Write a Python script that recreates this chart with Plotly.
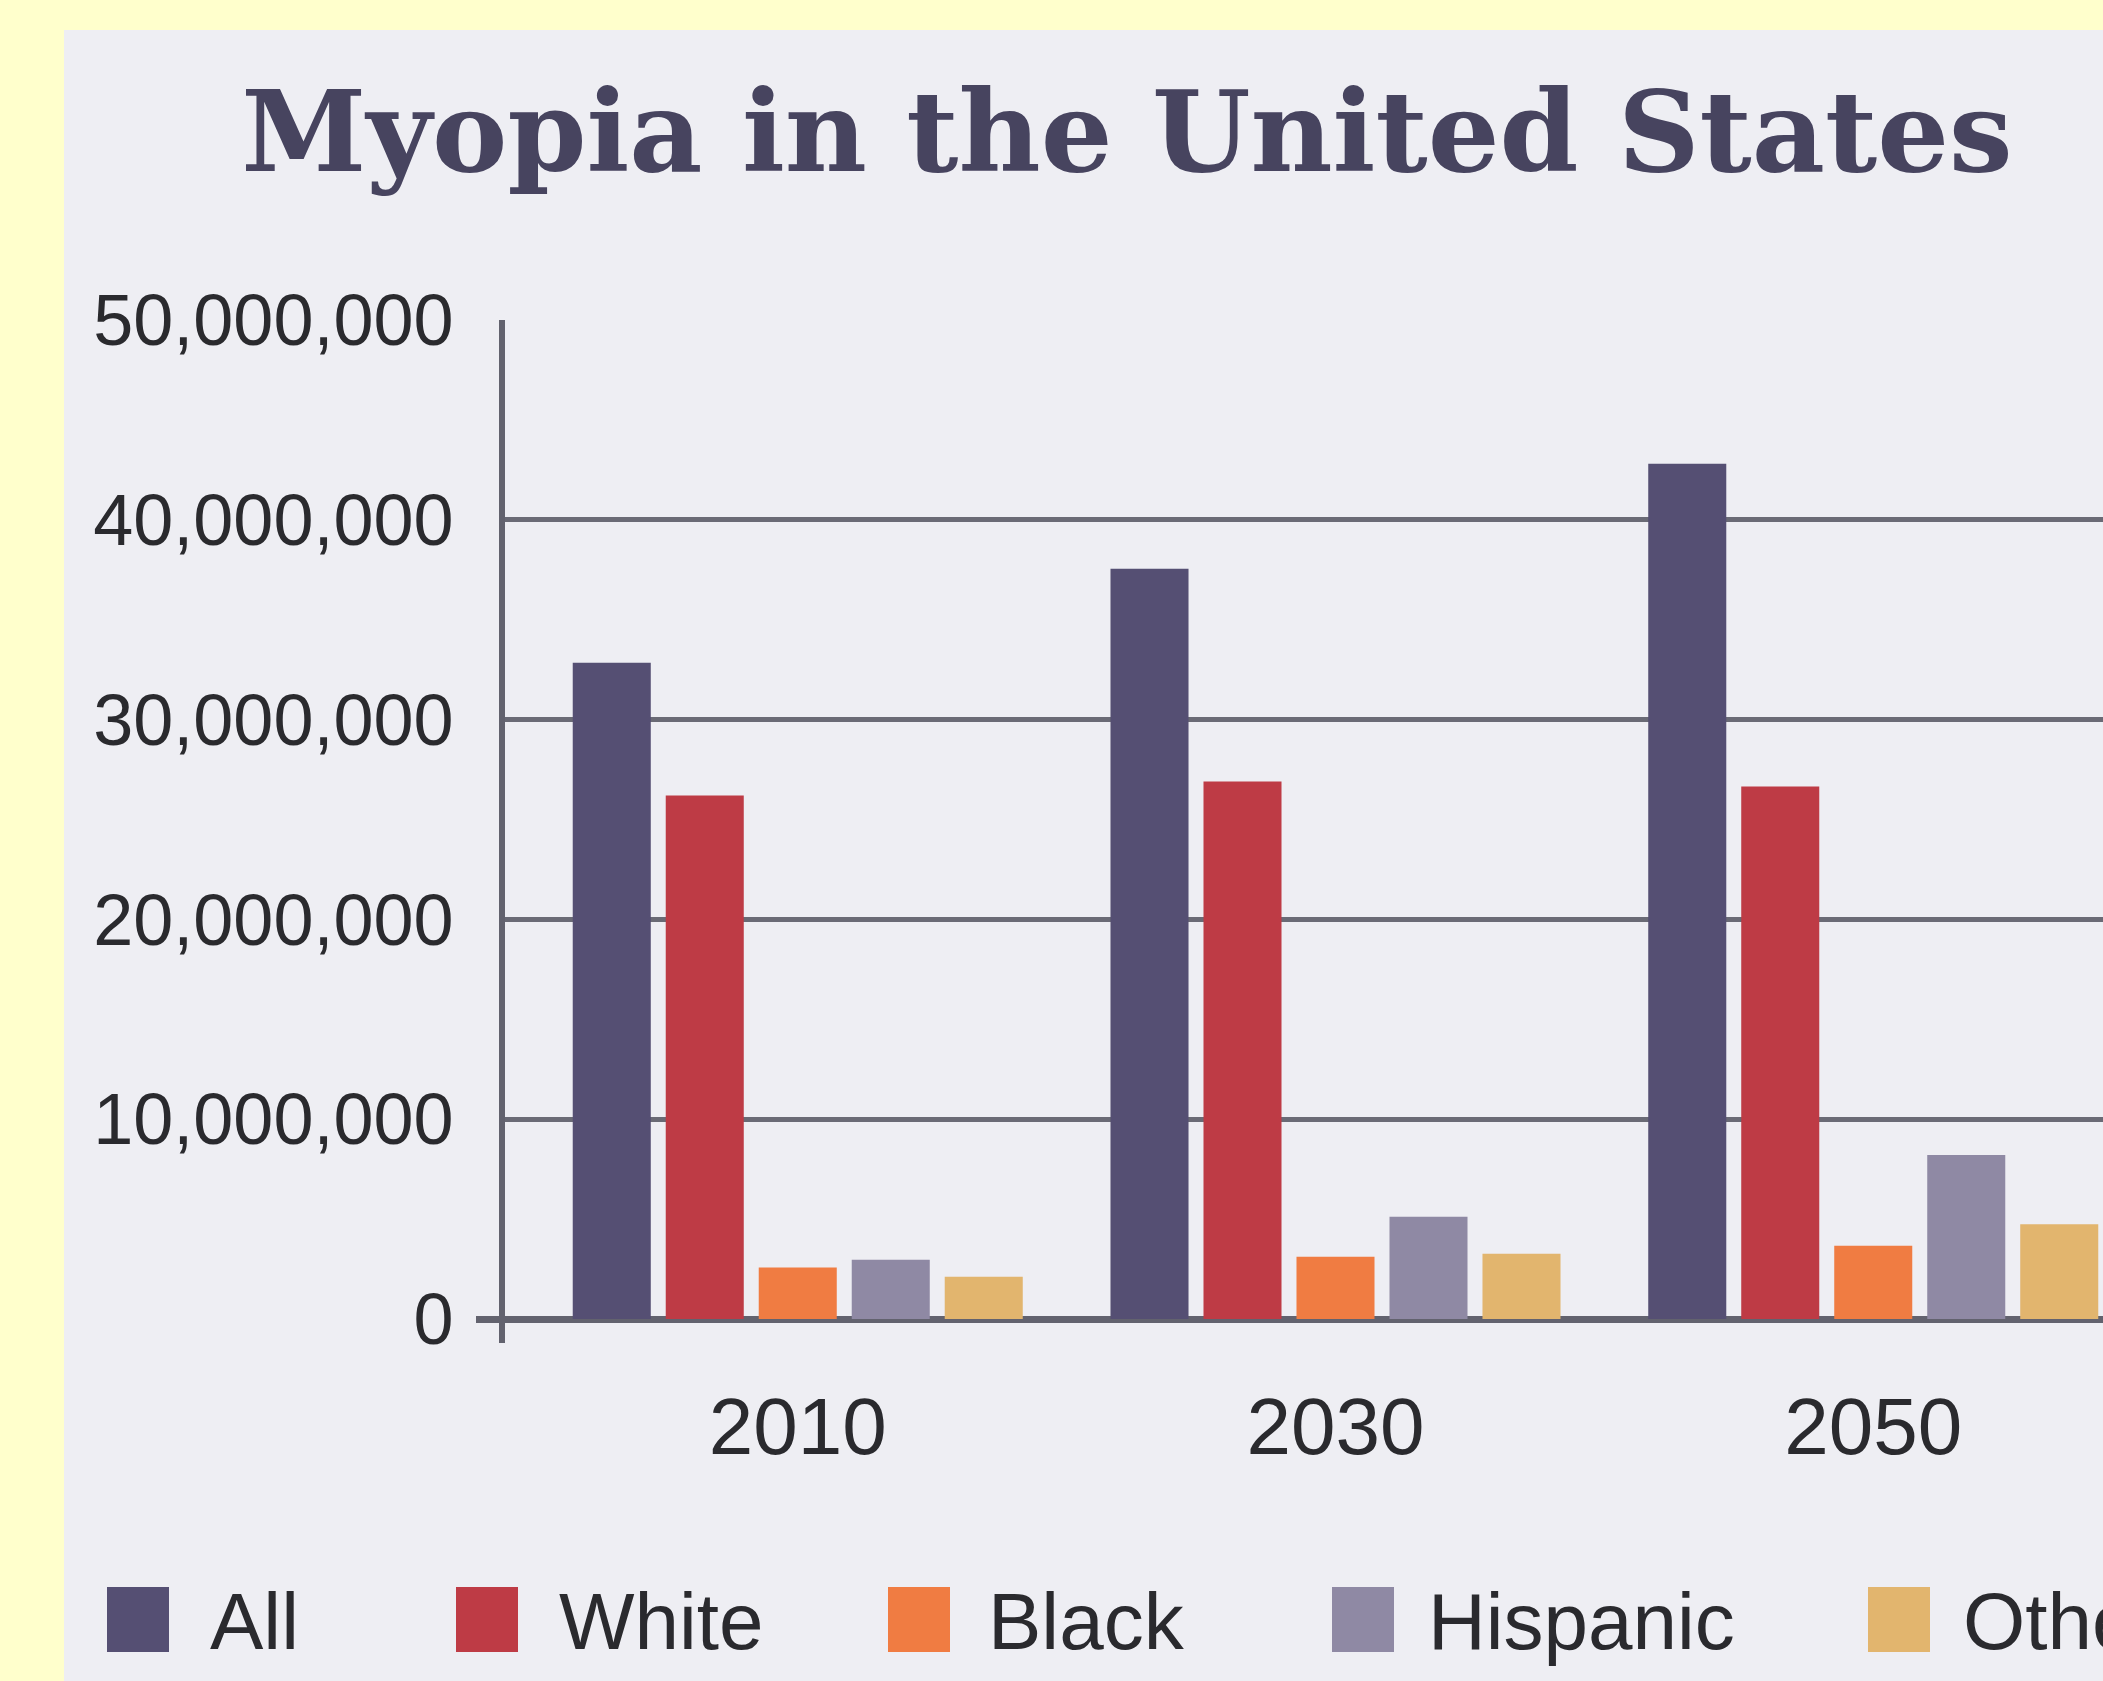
import plotly.graph_objects as go

# ---- data ----
years = ["2010", "2030", "2050"]
groups = ["All", "White", "Black", "Hispanic", "Other"]
all_vals = [32.85e6, 37.55e6, 42.8e6]
white_vals = [26.2e6, 26.9e6, 26.65e6]
black_vals = [2.58e6, 3.12e6, 3.66e6]
hispanic_vals = [2.96e6, 5.12e6, 8.21e6]
other_vals = [2.12e6, 3.27e6, 4.74e6]
y_tick_vals = [0, 10_000_000, 20_000_000, 30_000_000, 40_000_000, 50_000_000]

series = [all_vals, white_vals, black_vals, hispanic_vals, other_vals]
colors = ["#554f73", "#be3b45", "#f07c42", "#8f89a4", "#e2b56e"]

W, H = 2103, 1681
SANS = "Liberation Sans, Arial, Helvetica, sans-serif"
TEXT_COLOR = "#2a2a2e"
PANEL = "#eeeef3"
YELLOW = "#ffffcc"
GRID = "#6a6a75"
AXIS = "#62626e"

fig = go.Figure()
for name, vals, col in zip(groups, series, colors):
    fig.add_trace(go.Bar(x=years, y=vals, name=name, marker=dict(color=col, line=dict(width=0)),
                         showlegend=False))

# plot-area geometry (pixels)
left, right, top, bottom = 505, W, 320, 1343
zero_px = 1319
px_per_unit = (zero_px - top) / 50e6
y_low = -(bottom - zero_px) / px_per_unit
cat_px = 537.75
c0 = 797.75
x_low = -(c0 - left) / cat_px
x_high = x_low + (right - left) / cat_px

fig.update_layout(
    width=W, height=H,
    paper_bgcolor=YELLOW,
    plot_bgcolor="rgba(0,0,0,0)",
    margin=dict(l=left, r=W - right, t=top, b=H - bottom, pad=0, autoexpand=False),
    barmode="group",
    bargap=0.1353,
    bargroupgap=0.161,
    title=dict(
        text="Myopia in the United States",
        font=dict(family="DejaVu Serif, Liberation Serif, serif", size=113, color="#47445f", weight="bold"),
        x=1127 / W, xanchor="center", xref="container",
        y=1 - 131 / H, yanchor="middle", yref="container",
    ),
    xaxis=dict(
        type="category", range=[x_low, x_high],
        showgrid=False, showline=False, zeroline=False, ticks="",
        tickfont=dict(family=SANS, size=80, color=TEXT_COLOR),
        ticklabelstandoff=30,
    ),
    yaxis=dict(
        range=[y_low, 50e6],
        tickvals=y_tick_vals, tickformat=",d",
        showgrid=True, gridcolor=GRID, gridwidth=5,
        zeroline=True, zerolinecolor=AXIS, zerolinewidth=7,
        showline=True, linecolor=AXIS, linewidth=6,
        ticks="", ticklabelstandoff=31,
        tickfont=dict(family=SANS, size=72, color=TEXT_COLOR),
        minor=dict(tickvals=[0], ticks="outside", ticklen=23, tickwidth=7, tickcolor=AXIS, showgrid=False),
    ),
)

# panel background
def py(p):
    return (bottom - p) / (bottom - top)
def px(p):
    return (p - left) / (right - left)

fig.add_shape(type="rect", xref="paper", yref="paper",
              x0=px(64), x1=1.0, y0=py(H), y1=py(30),
              fillcolor=PANEL, line=dict(width=0), layer="below")

# custom legend (large swatches like the reference)
legend_sq_x = [107, 456, 888, 1332, 1868]
legend_txt_x = [208, 557, 986, 1426, 1961]
sq_top, sq_bot = 1587, 1652
for name, col, sx, tx in zip(groups, colors, legend_sq_x, legend_txt_x):
    fig.add_shape(type="rect", xref="paper", yref="paper",
                  x0=px(sx), x1=px(sx + 62), y0=py(sq_bot), y1=py(sq_top),
                  fillcolor=col, line=dict(width=0))
    fig.add_annotation(xref="paper", yref="paper", x=px(tx), y=py(1621),
                       xanchor="left", yanchor="middle", showarrow=False,
                       text=name, font=dict(family=SANS, size=80, color=TEXT_COLOR))

fig.write_html("out.html")
